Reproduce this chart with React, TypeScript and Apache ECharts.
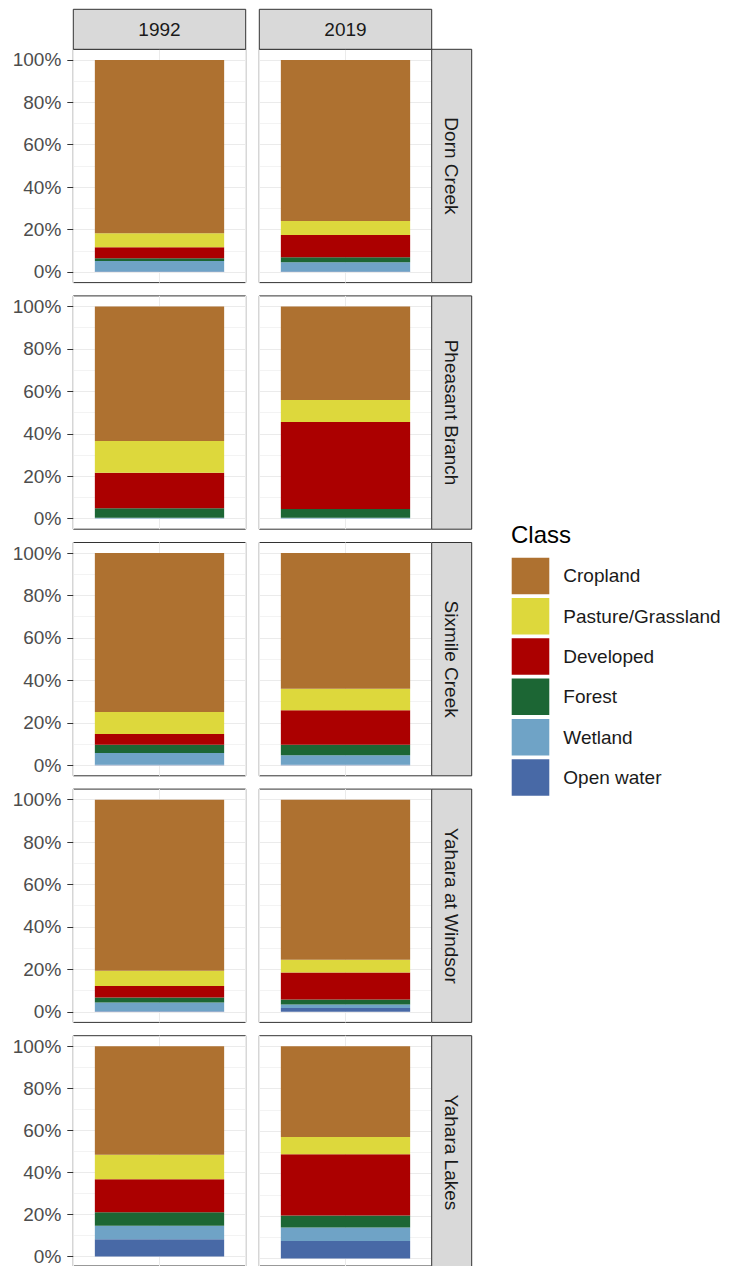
import React, { useEffect, useRef } from "react";
import * as echarts from "echarts";

// Facet labels
const years = ["1992", "2019"];
const watersheds = ["Dorn Creek", "Pheasant Branch", "Sixmile Creek", "Yahara at Windsor", "Yahara Lakes"];

// Land cover classes (legend order, top of stack first) and their fills
const classes = ["Cropland", "Pasture/Grassland", "Developed", "Forest", "Wetland", "Open water"];
const classColors = ["#AE7130", "#DDD83C", "#AB0000", "#1C6634", "#6FA3C6", "#4869A6"];

// Percent of watershed area per class, in the order of `classes`; [1992, 2019]
const dornCreek = [
  [81.7, 6.6, 5.2, 1.3, 5.0, 0.2],
  [75.9, 6.6, 10.6, 2.3, 4.4, 0.2],
];
const pheasantBranch = [
  [63.4, 15.0, 16.7, 4.5, 0.3, 0.1],
  [44.1, 10.4, 41.0, 4.1, 0.3, 0.1],
];
const sixmileCreek = [
  [74.9, 10.4, 5.1, 3.9, 5.5, 0.2],
  [64.0, 10.1, 16.3, 4.9, 4.5, 0.2],
];
const yaharaWindsor = [
  [80.7, 7.1, 5.5, 2.3, 4.1, 0.3],
  [75.5, 6.0, 12.7, 2.4, 1.6, 1.8],
];
const yaharaLakes = [
  [51.6, 11.6, 15.8, 6.4, 6.4, 8.2],
  [42.8, 8.1, 28.9, 5.6, 6.4, 8.2],
];
const shares = [dornCreek, pheasantBranch, sixmileCreek, yaharaWindsor, yaharaLakes];

// Y axis ticks (percent)
const yTicks = { min: 0, max: 100, step: 20 };

const FONT = "'Liberation Sans', Arial, Helvetica, sans-serif";

// Facet geometry (px)
const colLeft = [73.3, 259.3];
const panelW = 172.4;
const rowTop0 = 49.3;
const rowPitch = 246.6;
const panelH = 233.3;
const expand = (panelH * 5) / 110; // 5% expansion above and below the 0-100% range
const stripTop = 9.3;
const stripH = 40;
const rightStripW = 40;

function buildOption() {
  const grid: any[] = [];
  const xAxis: any[] = [];
  const yAxis: any[] = [];
  const series: any[] = [];
  const graphic: any[] = [];

  watersheds.forEach((ws, r) => {
    const top = rowTop0 + r * rowPitch;
    years.forEach((yr, c) => {
      const p = r * 2 + c;
      const left = colLeft[c];
      // frame grid: panel border and vertical gridline
      grid.push({
        left,
        top,
        width: panelW,
        height: panelH,
        show: true,
        borderColor: "#333333",
        borderWidth: 1,
        backgroundColor: "transparent",
      });
      xAxis.push({
        type: "value",
        gridIndex: 2 * p,
        min: 0,
        max: 2,
        interval: 1,
        axisLine: { show: false },
        axisTick: { show: false },
        axisLabel: { show: false },
        splitLine: { show: true, lineStyle: { color: "#EBEBEB", width: 1 } },
      });
      yAxis.push({
        type: "value",
        gridIndex: 2 * p,
        min: 0,
        max: 1,
        show: false,
      });
      // data grid: 0-100% range
      grid.push({
        left,
        top: top + expand,
        width: panelW,
        height: panelH - 2 * expand,
        show: false,
      });
      xAxis.push({
        type: "category",
        gridIndex: 2 * p + 1,
        data: [yr],
        axisLine: { show: false },
        axisTick: { show: false },
        axisLabel: { show: false },
        splitLine: { show: false },
      });
      yAxis.push({
        type: "value",
        gridIndex: 2 * p + 1,
        min: yTicks.min,
        max: yTicks.max,
        interval: yTicks.step,
        axisLine: { show: false },
        axisTick: { show: c === 0, length: 6, lineStyle: { color: "#333333", width: 1 } },
        axisLabel: {
          show: c === 0,
          formatter: "{value}%",
          fontSize: 19,
          color: "#4D4D4D",
          fontFamily: FONT,
          margin: 12,
        },
        splitLine: { show: true, lineStyle: { color: "#EBEBEB", width: 1 } },
        minorTick: { show: false, splitNumber: 2 },
        minorSplitLine: { show: true, lineStyle: { color: "#F3F3F3", width: 1 } },
      });

      const vals = shares[r][c];
      // bottom of stack first: Open water ... Cropland
      for (let k = classes.length - 1; k >= 0; k--) {
        series.push({
          type: "bar",
          name: classes[k],
          xAxisIndex: 2 * p + 1,
          yAxisIndex: 2 * p + 1,
          stack: "panel" + p,
          barWidth: "75%",
          data: [vals[k]],
          itemStyle: { color: classColors[k] },
          silent: true,
        });
      }
    });

    // right-hand strip with watershed name
    graphic.push({
      type: "rect",
      shape: { x: colLeft[1] + panelW, y: top, width: rightStripW, height: panelH },
      style: { fill: "#D9D9D9", stroke: "#333333", lineWidth: 1 },
      z: 10,
    });
    graphic.push({
      type: "text",
      x: colLeft[1] + panelW + rightStripW / 2,
      y: top + panelH / 2,
      rotation: -Math.PI / 2,
      style: {
        text: ws,
        fontSize: 19,
        fontFamily: FONT,
        fill: "#1A1A1A",
        align: "center",
        verticalAlign: "middle",
        textAlign: "center",
        textVerticalAlign: "middle",
      },
      z: 11,
    });
  });

  // top strips with year
  years.forEach((yr, c) => {
    graphic.push({
      type: "rect",
      shape: { x: colLeft[c], y: stripTop, width: panelW, height: stripH },
      style: { fill: "#D9D9D9", stroke: "#333333", lineWidth: 1 },
      z: 10,
    });
    graphic.push({
      type: "text",
      x: colLeft[c] + panelW / 2,
      y: stripTop + stripH / 2,
      style: {
        text: yr,
        fontSize: 19,
        fontFamily: FONT,
        fill: "#1A1A1A",
        align: "center",
        verticalAlign: "middle",
        textAlign: "center",
        textVerticalAlign: "middle",
      },
      z: 11,
    });
  });

  // legend title
  graphic.push({
    type: "text",
    x: 511,
    y: 534,
    style: {
      text: "Class",
      fontSize: 24,
      fontFamily: FONT,
      fill: "#000000",
      align: "left",
      verticalAlign: "middle",
      textAlign: "left",
      textVerticalAlign: "middle",
    },
  });

  return {
    animation: false,
    backgroundColor: "#FFFFFF",
    grid,
    xAxis,
    yAxis,
    series,
    graphic,
    legend: {
      data: classes,
      orient: "vertical",
      left: 511.7,
      top: 557.7,
      padding: 0,
      itemWidth: 37.6,
      itemHeight: 36.5,
      itemGap: 3.8,
      icon: "rect",
      selectedMode: false,
      itemStyle: { borderWidth: 0 },
      textStyle: {
        fontSize: 19,
        fontFamily: FONT,
        color: "#1A1A1A",
        padding: [0, 0, 0, 9],
      },
    },
  };
}

export default function App() {
  const ref = useRef<HTMLDivElement>(null);
  useEffect(() => {
    if (!ref.current) return;
    const chart = echarts.init(ref.current, undefined, { renderer: "svg" });
    chart.setOption(buildOption());
    return () => chart.dispose();
  }, []);
  return (
    <div
      ref={ref}
      style={{ position: "absolute", left: 0, top: 0, width: 732, height: 1266, background: "#FFFFFF" }}
    />
  );
}
